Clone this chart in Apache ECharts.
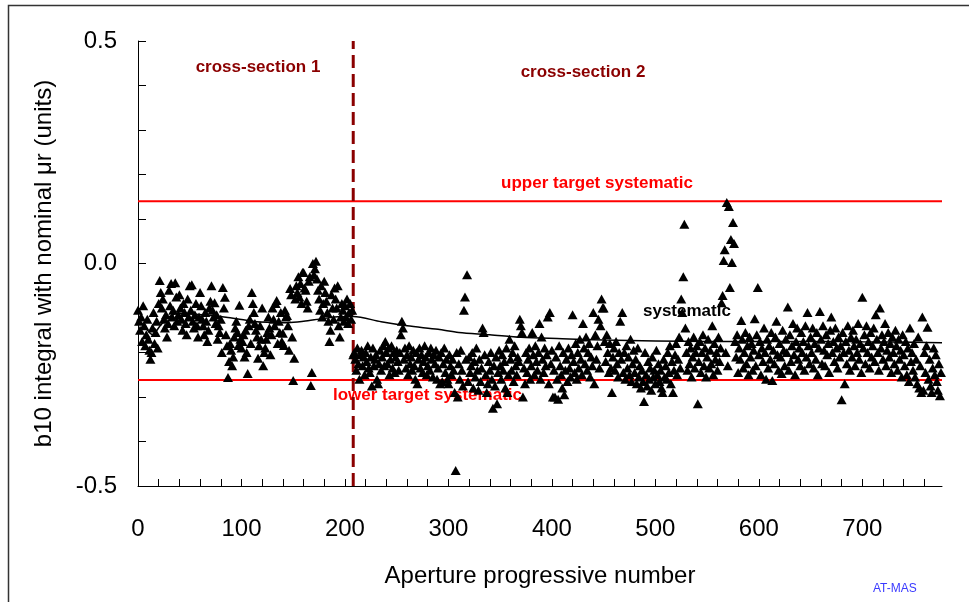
<!DOCTYPE html>
<html><head><meta charset="utf-8">
<script src="https://cdn.jsdelivr.net/npm/echarts@6/dist/echarts.min.js"></script>
<style>html,body{margin:0;padding:0;background:#fff}#c{width:969px;height:602px}</style>
</head><body><div id="c"></div><script>
// ---- data ----
const xMin = 0, xMax = 777;
const xTickValues = [0,20,40,60,80,100,120,140,160,180,200,220,240,260,280,300,320,340,360,380,400,420,440,460,480,500,520,540,560,580,600,620,640,660,680,700,720,740,760];
const xLabelValues = [0,100,200,300,400,500,600,700];
const yLabelValues = [-0.5,0.0,0.5];
const upperTarget = 0.14;
const lowerTarget = -0.262;
const sectionBoundary = 208;
// cross-section 1: apertures 0..207
const section1 = [
-.105,-.13,-.15,-.12,-.175,-.095,-.14,-.185,-.16,-.125,
-.17,-.195,-.215,-.2,-.145,-.11,-.18,-.155,-.13,-.19,
-.09,-.038,-.065,-.1,-.08,-.125,-.145,-.115,-.165,-.135,
-.06,-.095,-.045,-.12,-.105,-.14,-.043,-.075,-.13,-.115,
-.07,-.1,-.125,-.15,-.09,-.11,-.135,-.16,-.08,-.12,
-.05,-.105,-.048,-.13,-.145,-.115,-.09,-.14,-.165,-.12,
-.065,-.095,-.125,-.14,-.16,-.11,-.13,-.175,-.15,-.1,
-.085,-.05,-.105,-.12,-.088,-.135,-.115,-.17,-.14,-.155,
-.125,-.2,-.054,-.1,-.076,-.16,-.185,-.256,-.22,-.18,
-.195,-.23,-.21,-.165,-.145,-.13,-.155,-.184,-.094,-.17,
-.19,-.175,-.16,-.21,-.15,-.2,-.247,-.14,-.125,-.18,
-.065,-.09,-.11,-.135,-.15,-.165,-.213,-.185,-.14,-.17,
-.1,-.23,-.2,-.19,-.17,-.155,-.12,-.145,-.205,-.16,
-.1,-.125,-.14,-.09,-.083,-.18,-.13,-.155,-.11,-.175,
-.157,-.184,-.105,-.12,-.117,-.14,-.195,-.056,-.07,-.165,
-.263,-.213,-.08,-.05,-.065,-.03,-.075,-.045,-.09,-.02,
-.02,-.055,-.06,-.085,-.1,-.04,-.03,-.274,-.245,0,
-.025,-.012,.005,-.035,-.06,-.08,-.105,-.05,-.12,-.09,
-.04,-.065,-.085,-.11,-.13,-.175,-.15,-.07,-.1,-.125,
-.055,-.08,-.1,-.05,-.14,-.165,-.12,-.09,-.105,-.13,
-.095,-.12,-.08,-.135,-.11,-.09,-.125,-.105
];
// cross-section 2: apertures 208..776
const section2Start = 208;
const section2 = [
-.205,-.2,
-.215,-.24,-.19,-.225,-.26,-.205,-.195,-.23,-.21,-.25,
-.2,-.22,-.185,-.235,-.245,-.21,-.275,-.19,-.23,-.215,
-.205,-.26,-.27,-.225,-.195,-.24,-.21,-.185,-.23,-.175,
-.2,-.225,-.19,-.25,-.215,-.185,-.235,-.2,-.245,-.21,
-.195,-.22,-.24,-.2,-.16,-.13,-.145,-.215,-.19,-.235,
-.205,-.25,-.185,-.225,-.21,-.24,-.195,-.23,-.26,-.2,
-.27,-.215,-.19,-.235,-.205,-.245,-.22,-.185,-.21,-.25,
-.23,-.2,-.24,-.19,-.215,-.255,-.205,-.225,-.195,-.26,
-.235,-.21,-.27,-.2,-.265,-.225,-.19,-.245,-.215,-.26,
-.27,-.205,-.23,-.25,-.215,-.24,-.29,-.465,-.2,-.3,
-.225,-.26,-.195,-.24,-.275,-.105,-.075,-.215,-.025,-.265,
-.21,-.245,-.23,-.2,-.28,-.22,-.255,-.19,-.24,-.285,
-.215,-.265,-.235,-.145,-.155,-.205,-.25,-.29,-.27,-.22,
-.24,-.2,-.26,-.325,-.23,-.275,-.21,-.315,-.245,-.195,
-.23,-.26,-.205,-.24,-.22,-.28,-.19,-.29,-.25,-.17,
-.215,-.24,-.2,-.265,-.185,-.23,-.25,-.21,-.22,-.125,
-.14,-.155,-.3,-.235,-.27,-.2,-.245,-.215,-.19,-.26,
-.23,-.155,-.205,-.25,-.185,-.22,-.24,-.2,-.135,-.26,
-.165,-.215,-.245,-.19,-.23,-.205,-.12,-.27,-.11,-.225,
-.195,-.3,-.24,-.3,-.21,-.26,-.305,-.185,-.23,-.25,
-.28,-.2,-.295,-.24,-.215,-.265,-.19,-.235,-.255,-.205,
-.115,-.22,-.245,-.18,-.26,-.2,-.235,-.17,-.215,-.25,
-.135,-.19,-.225,-.165,-.24,-.2,-.18,-.255,-.21,-.23,
-.11,-.27,-.16,-.215,-.185,-.125,-.235,-.14,-.08,-.1,
-.1,-.175,-.22,-.16,-.2,-.245,-.18,-.235,-.29,-.21,
-.19,-.24,-.175,-.225,-.255,-.2,-.13,-.215,-.11,-.245,
-.2,-.26,-.185,-.235,-.21,-.25,-.17,-.265,-.225,-.195,
-.245,-.215,-.27,-.19,-.255,-.23,-.28,-.24,-.265,-.31,
-.2,-.25,-.275,-.22,-.26,-.235,-.285,-.21,-.255,-.24,
-.27,-.195,-.25,-.225,-.265,-.24,-.28,-.29,-.215,-.255,
-.23,-.26,-.2,-.245,-.185,-.27,-.22,-.29,-.24,-.205,
-.18,-.25,-.215,-.165,-.235,-.08,-.11,-.03,.088,-.145,
-.2,-.24,-.175,-.225,-.19,-.255,-.21,-.165,-.235,-.2,
-.185,-.315,-.22,-.175,-.245,-.2,-.16,-.23,-.19,-.255,
-.21,-.17,-.235,-.195,-.225,-.14,-.25,-.18,-.215,-.2,
-.24,-.165,-.22,-.19,-.088,-.072,.007,.031,-.2,.137,
-.23,.128,-.054,.054,.002,.092,.045,-.175,-.21,-.16,
-.245,-.19,-.215,-.128,-.17,-.235,-.2,-.155,-.225,-.185,
-.25,-.165,-.21,-.18,-.24,-.195,-.124,-.23,-.16,-.054,
-.205,-.175,-.25,-.19,-.22,-.145,-.2,-.26,-.17,-.235,
-.185,-.215,-.155,-.263,-.195,-.225,-.165,-.13,-.205,-.24,
-.18,-.21,-.247,-.15,-.195,-.23,-.17,-.2,-.098,-.24,
-.16,-.22,-.185,-.135,-.205,-.25,-.175,-.145,-.215,-.19,
-.23,-.155,-.2,-.175,-.24,-.14,-.21,-.11,-.185,-.225,
-.165,-.2,-.145,-.235,-.18,-.215,-.155,-.25,-.19,-.108,
-.17,-.225,-.14,-.195,-.23,-.16,-.205,-.18,-.245,-.15,
-.12,-.2,-.175,-.22,-.145,-.19,-.235,-.165,-.21,-.185,
-.306,-.155,-.2,-.27,-.175,-.225,-.14,-.195,-.24,-.165,
-.21,-.15,-.185,-.23,-.17,-.2,-.135,-.215,-.18,-.245,
-.076,-.19,-.16,-.225,-.14,-.2,-.175,-.235,-.155,-.21,
-.185,-.145,-.22,-.115,-.17,-.2,-.24,-.1,-.19,-.16,
-.215,-.175,-.135,-.23,-.195,-.155,-.21,-.18,-.245,-.165,
-.2,-.225,-.15,-.185,-.24,-.17,-.215,-.195,-.255,-.16,
-.205,-.23,-.175,-.25,-.19,-.265,-.145,-.22,-.2,-.24,
-.18,-.255,-.215,-.27,-.165,-.28,-.23,-.29,-.12,-.285,
-.2,-.245,-.185,-.143,-.26,-.215,-.275,-.29,-.235,-.19,
-.25,-.205,-.265,-.285,-.225,-.297,-.245
];
// systematic (running average) curve
const systematicX = [0,6,14,22,30,40,55,70,85,100,115,130,145,160,175,190,208,235,260,290,310,340,370,410,450,500,550,600,650,700,750,777];
const systematicY = [-0.124,-0.14,-0.16,-0.138,-0.12,-0.112,-0.114,-0.117,-0.121,-0.126,-0.131,-0.132,-0.133,-0.13,-0.125,-0.12,-0.119,-0.131,-0.14,-0.148,-0.155,-0.16,-0.166,-0.169,-0.172,-0.174,-0.175,-0.175,-0.175,-0.176,-0.177,-0.178];

// ---- build ----
const pts = section1.map((v,i)=>[i,v]).concat(section2.map((v,i)=>[section2Start+i,v]));
const sysData = systematicX.map((x,i)=>[x,systematicY[i]]);
const FF = '"Liberation Sans", Arial, sans-serif';

const chart = echarts.init(document.getElementById('c'), null, {renderer:'canvas'});
chart.setOption({
  animation:false,
  backgroundColor:'#fff',
  grid:{left:138,right:27,top:41,bottom:116,containLabel:false},
  xAxis:{
    type:'value', min:xMin, max:xMax,
    axisLine:{onZero:false,lineStyle:{color:'#000',width:1}},
    axisTick:{inside:true,length:7,customValues:xTickValues,lineStyle:{color:'#000',width:1}},
    axisLabel:{customValues:xLabelValues,fontSize:24,color:'#000',fontFamily:FF,margin:31},
    splitLine:{show:false},
    name:'Aperture progressive number', nameLocation:'middle', nameGap:78,
    nameTextStyle:{fontSize:24,color:'#000',fontFamily:FF}
  },
  yAxis:{
    type:'value', min:-0.5, max:0.5, interval:0.1,
    axisLine:{onZero:false,lineStyle:{color:'#000',width:1}},
    axisTick:{inside:true,length:8,lineStyle:{color:'#000',width:1}},
    axisLabel:{fontSize:24,color:'#000',fontFamily:FF,margin:21,
      formatter:v=>{const hit=yLabelValues.find(t=>Math.abs(t-v)<1e-6);return hit===undefined?'':hit.toFixed(1);}},
    splitLine:{show:false},
    name:'b10 integral with nominal μr (units)', nameLocation:'middle', nameGap:82, nameRotate:90,
    nameTextStyle:{fontSize:24,color:'#000',fontFamily:FF}
  },
  series:[
    {type:'line',data:[[xMin,upperTarget],[xMax,upperTarget]],symbol:'none',lineStyle:{color:'#ff0000',width:2},z:2,silent:true},
    {type:'line',data:[[xMin,lowerTarget],[xMax,lowerTarget]],symbol:'none',lineStyle:{color:'#ff0000',width:2},z:2,silent:true},
    {type:'line',data:[[sectionBoundary,-0.5],[sectionBoundary,0.5]],symbol:'none',lineStyle:{color:'#8b0000',width:3,type:[13,6]},z:2,silent:true},
    {type:'scatter',data:pts,symbol:'triangle',symbolSize:[10,9],itemStyle:{color:'#000',opacity:1},z:3,silent:true},
    {type:'line',data:sysData,symbol:'none',smooth:0.3,lineStyle:{color:'#000',width:1.5},z:4,silent:true}
  ],
  graphic:[
    {type:'rect',shape:{x:8.5,y:5.5,width:1000,height:700},style:{fill:'none',stroke:'#333',lineWidth:1.5},silent:true},
    {type:'text',x:258,y:67,style:{text:'cross-section 1',fill:'#8b0000',font:'bold 17px '+FF,align:'center',verticalAlign:'middle',textAlign:'center',textVerticalAlign:'middle'}},
    {type:'text',x:583,y:72,style:{text:'cross-section 2',fill:'#8b0000',font:'bold 17px '+FF,align:'center',verticalAlign:'middle',textAlign:'center',textVerticalAlign:'middle'}},
    {type:'text',x:597,y:183,style:{text:'upper target systematic',fill:'#ff0000',font:'bold 17px '+FF,align:'center',verticalAlign:'middle',textAlign:'center',textVerticalAlign:'middle'}},
    {type:'text',x:333,y:395,style:{text:'lower target systematic',fill:'#ff0000',font:'bold 17px '+FF,align:'left',verticalAlign:'middle',textAlign:'left',textVerticalAlign:'middle'}},
    {type:'text',x:643,y:311,style:{text:'systematic',fill:'#000',font:'bold 17px '+FF,align:'left',verticalAlign:'middle',textAlign:'left',textVerticalAlign:'middle'}},
    {type:'text',x:873,y:589,style:{text:'AT-MAS',fill:'#3a3aff',font:'12px '+FF,align:'left',verticalAlign:'middle',textAlign:'left',textVerticalAlign:'middle'}}
  ]
});
</script></body></html>
